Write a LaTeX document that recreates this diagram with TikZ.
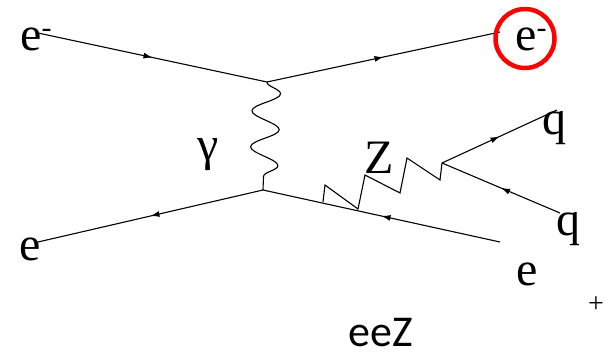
\documentclass[tikz,border=0pt]{standalone}
\usepackage{fontspec}
\setmainfont{Liberation Serif}
\newfontfamily\labelsans{Carlito}
\usetikzlibrary{decorations.markings,decorations.pathmorphing,arrows.meta}
\tikzset{
  plain/.style={line width=1.1pt, black},
  fermion/.style={plain, postaction={decorate},
    decoration={markings, mark=at position 0.5 with {\arrow{Latex[length=9pt,width=6pt]}}}},
  photon/.style={plain, decorate, decoration={snake, segment length=36pt, amplitude=14pt}},
  lbl/.style={inner sep=0pt, anchor=base west, font=\fontsize{48}{48}\selectfont},
  ring/.style={draw=red, line width=4.5pt},
}
\newcommand{\supdash}{\raisebox{13pt}{\fontsize{30}{30}\selectfont -}}
\begin{document}
\begin{tikzpicture}[x=1pt,y=-1pt]
\useasboundingbox (0,0) rectangle (605,357);
% vertices and end points
\coordinate (vt) at (267,82);
\coordinate (vb) at (263,190);
\coordinate (qv) at (442,163);
\coordinate (zs) at (323,202);
\coordinate (tl) at (38,33);
\coordinate (tr) at (500,32);
\coordinate (bl) at (38,242);
\coordinate (br) at (500,242);
\coordinate (qu) at (557,110);
\coordinate (ql) at (560,213);
% fermion lines
\draw[fermion] (tl) -- (vt);
\draw[fermion] (vt) -- (tr);
\draw[fermion] (vb) -- (bl);
\draw[fermion] (br) -- (vb);
\draw[fermion] (qv) -- (qu);
\draw[fermion] (ql) -- (qv);
% photon
\draw[photon] (vt) -- (vb);
% Z boson zigzag
\draw[plain] (zs) -- (325,185) -- (358,209) -- (365,175) -- (400,193) -- (407,158) -- (440,180) -- (qv);
% labels
\node[lbl] (lTL) at (20,50) {e\supdash};
\node[lbl] (lTR) at (515,50) {e\supdash};
\node[ring, circle, minimum size=59pt, inner sep=0pt] (ringc) at (525,38.5) {};
\node[lbl] (lBL) at (19,260) {e};
\node[lbl] (lg) at (197,160) {γ};
\node[lbl] (lZ) at (364,173) {Z};
\node[lbl] (lq1) at (542,134) {q};
\node[lbl] (lq2) at (556,235) {q};
\node[lbl] (lBR) at (516,285) {e};
\node[inner sep=0pt, font=\fontsize{28}{28}\selectfont] (lplus) at (596,305) {+};
\node[inner sep=0pt, anchor=base west, font=\labelsans\fontsize{44}{44}\selectfont] (ltitle) at (348,346) {eeZ};
\end{tikzpicture}
\end{document}
